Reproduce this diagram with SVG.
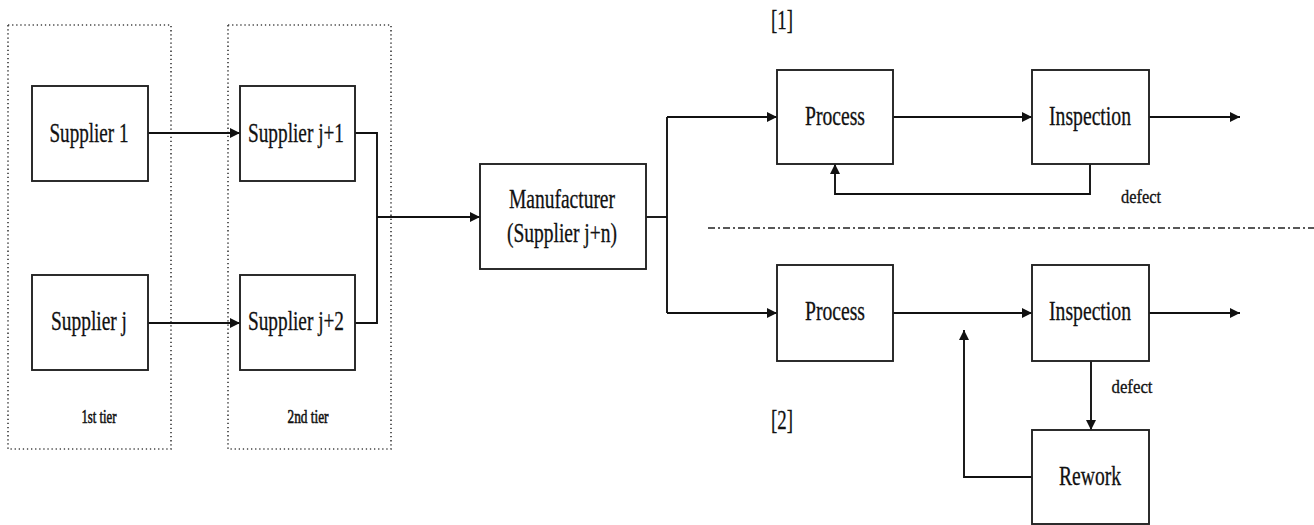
<svg xmlns="http://www.w3.org/2000/svg" width="1314" height="525" viewBox="0 0 1314 525">
<style>
.box{fill:#fff;stroke:#222;stroke-width:1.9}
.tier{fill:none;stroke:#444;stroke-width:1.7;stroke-dasharray:1.3 2.8}
.ln{fill:none;stroke:#111;stroke-width:1.9}
.t{font-family:"Liberation Serif","Times New Roman",serif;fill:#111;stroke:#111;stroke-width:0.3;text-anchor:middle}
.big{font-size:27px}
.sm{font-size:19px}
.tl{stroke-width:0.6}
</style>
<defs>
<marker id="ah" viewBox="0 0 10 10" refX="10" refY="5" markerWidth="10" markerHeight="10" markerUnits="userSpaceOnUse" orient="auto">
<path d="M0,0 L10,5 L0,10 z" fill="#111"/>
</marker>
</defs>
<rect x="0" y="0" width="1314" height="525" fill="#fff"/>
<g id="tier1">
<rect class="tier" x="8" y="25" width="163" height="424"/>
<text class="t sm tl" x="99" y="423" textLength="35" lengthAdjust="spacingAndGlyphs">1st tier</text>
</g>
<g id="tier2">
<rect class="tier" x="228" y="25" width="163" height="424"/>
<text class="t sm tl" x="308" y="423" textLength="41" lengthAdjust="spacingAndGlyphs">2nd tier</text>
</g>
<g id="divider">
<line x1="708" y1="228" x2="1314" y2="228" stroke="#222" stroke-width="1.7" stroke-dasharray="7 3 2 3"/>
</g>
<g id="label1"><text class="t big" x="782" y="29" textLength="22" lengthAdjust="spacingAndGlyphs">[1]</text></g>
<g id="label2"><text class="t big" x="782" y="429" textLength="22" lengthAdjust="spacingAndGlyphs">[2]</text></g>
<g id="connectors">
<path class="ln" d="M148,133 H240" marker-end="url(#ah)"/>
<path class="ln" d="M148,323 H240" marker-end="url(#ah)"/>
<path class="ln" d="M355,133 H377 V323 H355"/>
<path class="ln" d="M377,217 H480" marker-end="url(#ah)"/>
<path class="ln" d="M646,217 H667"/>
<path class="ln" d="M667,117 V313"/>
<path class="ln" d="M667,117 H777" marker-end="url(#ah)"/>
<path class="ln" d="M667,313 H777" marker-end="url(#ah)"/>
<path class="ln" d="M893,117 H1032" marker-end="url(#ah)"/>
<path class="ln" d="M1149,117 H1240" marker-end="url(#ah)"/>
<path class="ln" d="M1090,164 V194 H835 V164" marker-end="url(#ah)"/>
<path class="ln" d="M893,313 H1032" marker-end="url(#ah)"/>
<path class="ln" d="M1149,313 H1240" marker-end="url(#ah)"/>
<path class="ln" d="M1091,361 V430" marker-end="url(#ah)"/>
<path class="ln" d="M1032,477 H964 V330" marker-end="url(#ah)"/>
<text class="t sm" x="1141" y="203" textLength="40" lengthAdjust="spacingAndGlyphs">defect</text>
<text class="t sm" x="1132" y="393" textLength="41" lengthAdjust="spacingAndGlyphs">defect</text>
</g>
<g id="supplier1">
<rect class="box" x="32" y="86" width="116" height="95"/>
<text class="t big" x="89" y="142" textLength="79" lengthAdjust="spacingAndGlyphs">Supplier 1</text>
</g>
<g id="supplierj">
<rect class="box" x="32" y="275" width="116" height="95"/>
<text class="t big" x="89" y="330" textLength="76" lengthAdjust="spacingAndGlyphs">Supplier j</text>
</g>
<g id="supplierj1">
<rect class="box" x="240" y="86" width="115" height="95"/>
<text class="t big" x="296" y="142" textLength="96" lengthAdjust="spacingAndGlyphs">Supplier j+1</text>
</g>
<g id="supplierj2">
<rect class="box" x="240" y="275" width="115" height="95"/>
<text class="t big" x="296" y="330" textLength="96" lengthAdjust="spacingAndGlyphs">Supplier j+2</text>
</g>
<g id="manufacturer">
<rect class="box" x="480" y="164" width="166" height="105"/>
<text class="t big" x="562" y="208" textLength="106" lengthAdjust="spacingAndGlyphs">Manufacturer</text>
<text class="t big" x="562" y="242" textLength="110" lengthAdjust="spacingAndGlyphs">(Supplier j+n)</text>
</g>
<g id="process1">
<rect class="box" x="777" y="70" width="116" height="94"/>
<text class="t big" x="835" y="125" textLength="60" lengthAdjust="spacingAndGlyphs">Process</text>
</g>
<g id="inspection1">
<rect class="box" x="1032" y="70" width="117" height="94"/>
<text class="t big" x="1090" y="125" textLength="82" lengthAdjust="spacingAndGlyphs">Inspection</text>
</g>
<g id="process2">
<rect class="box" x="777" y="265" width="116" height="96"/>
<text class="t big" x="835" y="320" textLength="60" lengthAdjust="spacingAndGlyphs">Process</text>
</g>
<g id="inspection2">
<rect class="box" x="1032" y="265" width="117" height="96"/>
<text class="t big" x="1090" y="320" textLength="82" lengthAdjust="spacingAndGlyphs">Inspection</text>
</g>
<g id="rework">
<rect class="box" x="1032" y="430" width="117" height="94"/>
<text class="t big" x="1090" y="485" textLength="62" lengthAdjust="spacingAndGlyphs">Rework</text>
</g>
</svg>
